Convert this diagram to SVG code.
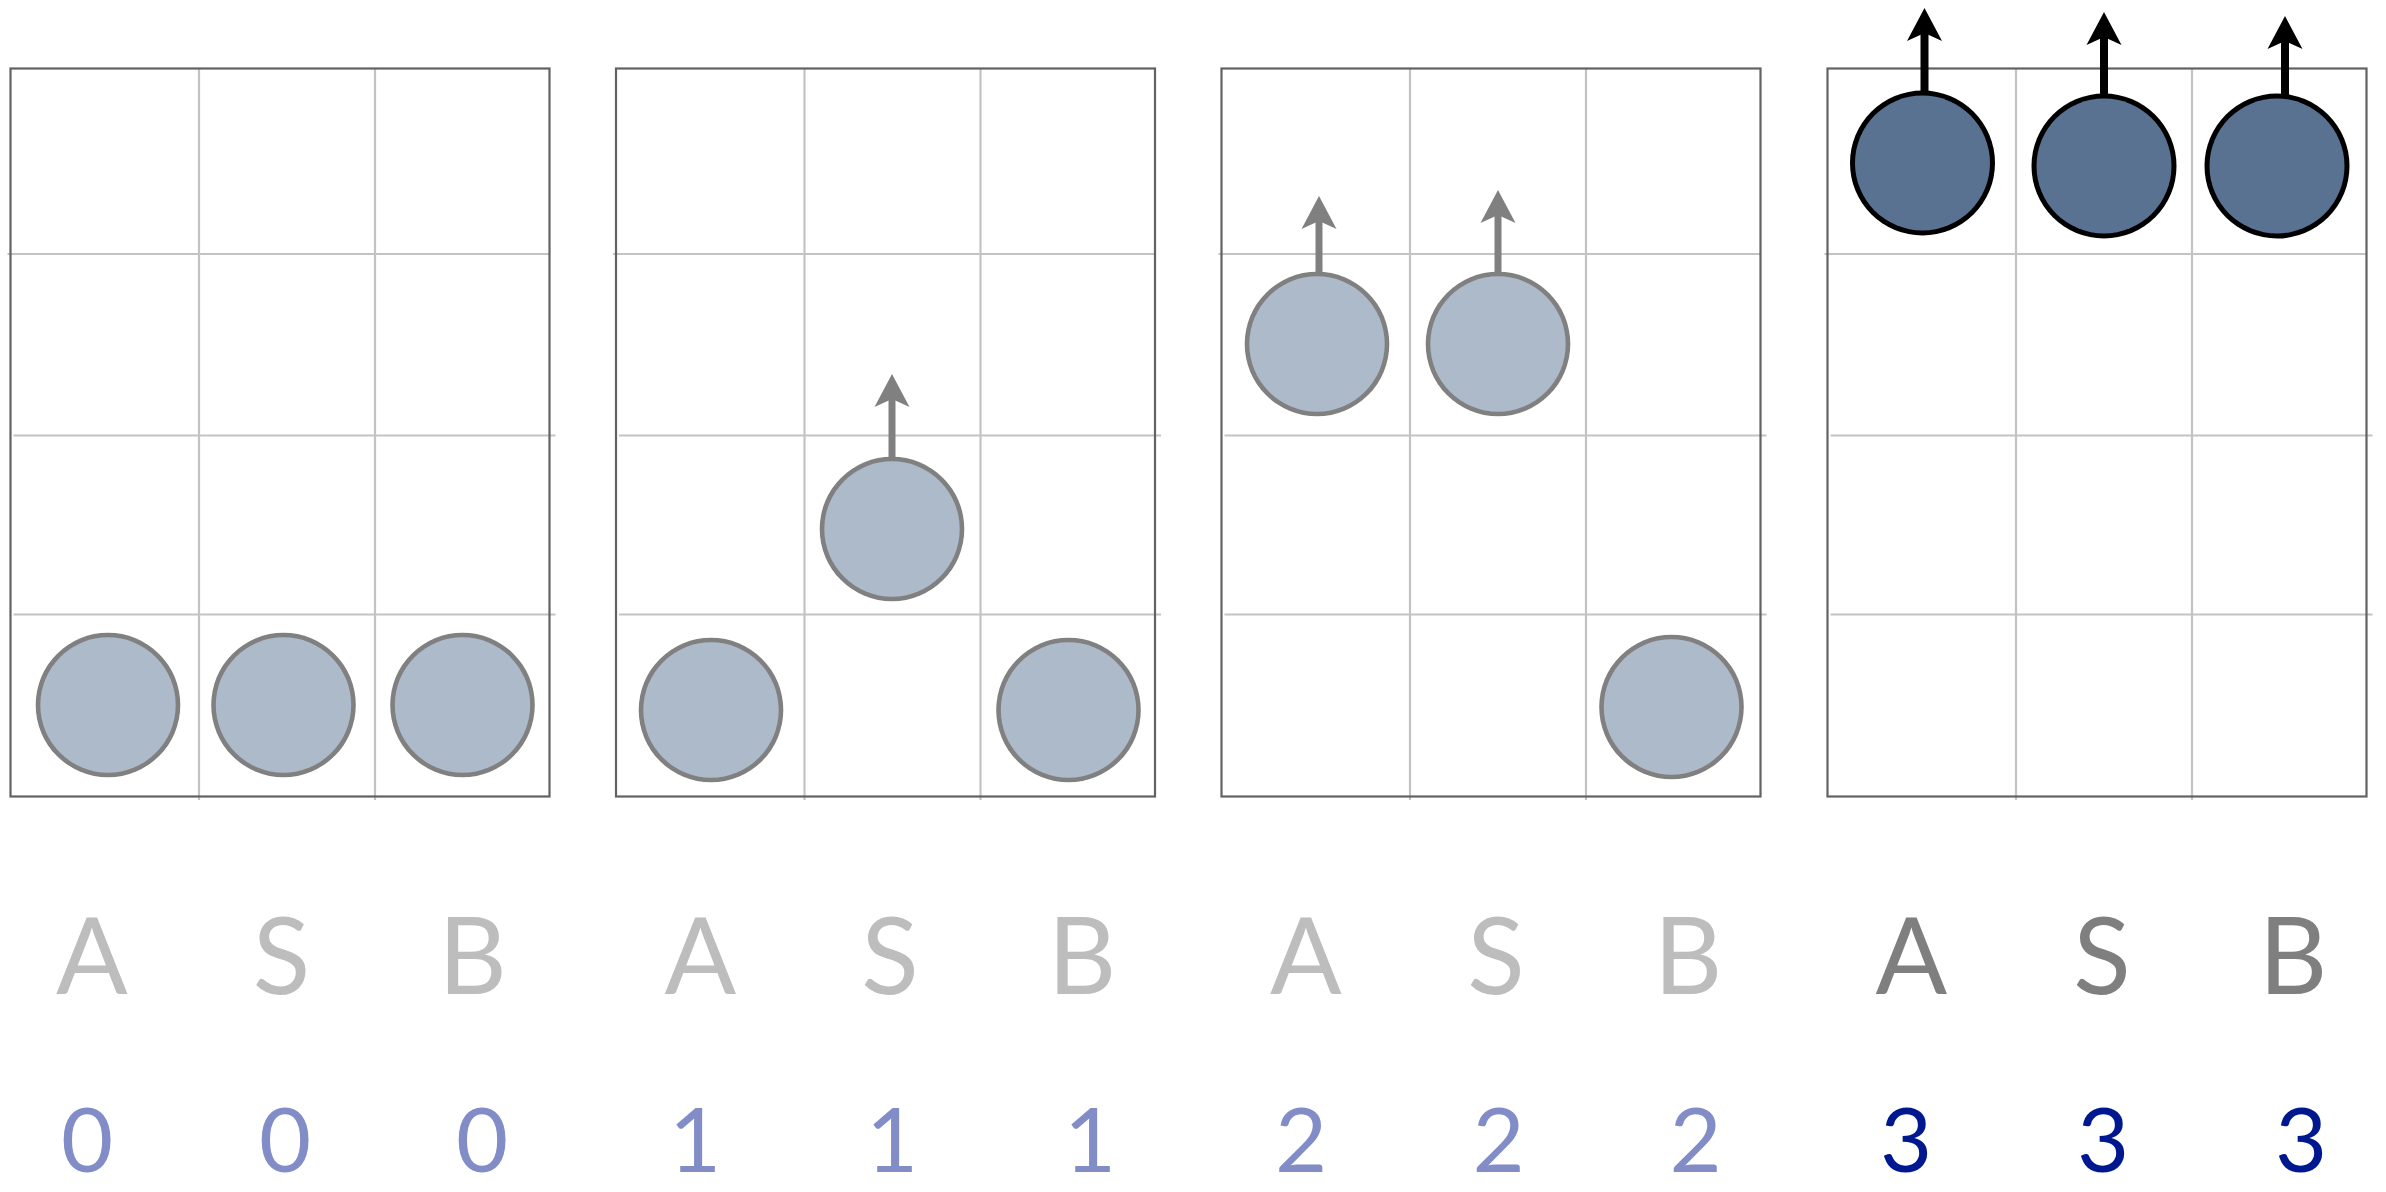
<svg xmlns="http://www.w3.org/2000/svg" width="2386" height="1192" viewBox="0 0 2386 1192">
  <style>
    .grid { stroke: #c3c3c3; stroke-width: 2.2; fill: none; }
    .border { stroke: #626262; stroke-width: 2.2; fill: none; }
    .ring { fill: #808080; }
    .core { fill: #adbac9; }
    .ring-done { fill: #000000; }
    .core-done { fill: #5a7291; }
    .shaft { stroke: #808080; stroke-width: 7; fill: none; }
    .shaft-done { stroke: #000000; stroke-width: 8; fill: none; }
    .lbl { font-family: Lato, "Open Sans", "Liberation Sans", sans-serif; font-size: 106px; text-anchor: middle; fill: #bdbdbd; }
    .lbl-done { fill: #7f7f7f; }
    .num { font-family: Lato, "Open Sans", "Liberation Sans", sans-serif; font-size: 90px; text-anchor: middle; fill: #828dc8; }
    .num-done { fill: #00188f; }
  </style>
  <defs>
    <marker id="headGray" markerUnits="userSpaceOnUse" viewBox="-10 -20 40 40" markerWidth="40" markerHeight="40" refX="0" refY="0" orient="auto" overflow="visible">
      <path d="M25,0 L-8,-17.5 L0,0 L-8,17.5 Z" fill="#808080"/>
    </marker>
    <marker id="headBlack" markerUnits="userSpaceOnUse" viewBox="-10 -20 40 40" markerWidth="40" markerHeight="40" refX="0" refY="0" orient="auto" overflow="visible">
      <path d="M25,0 L-8,-17.5 L0,0 L-8,17.5 Z" fill="#000000"/>
    </marker>
    <g id="ball">
      <ellipse class="ring" cx="0" cy="0" rx="72.3" ry="72.3"/>
      <ellipse class="core" cx="0" cy="0" rx="67.7" ry="67.7"/>
    </g>
    <g id="ballDone">
      <ellipse class="ring-done" cx="0" cy="0" rx="72.5" ry="72.5"/>
      <ellipse class="core-done" cx="0" cy="0" rx="67.5" ry="67.5"/>
    </g>
    <g id="gridlines">
      <line class="grid" x1="188.5" y1="68.5" x2="188.5" y2="800"/>
      <line class="grid" x1="364.5" y1="68.5" x2="364.5" y2="800"/>
      <line class="grid" x1="-3" y1="254" x2="539" y2="254"/>
      <line class="grid" x1="3" y1="435.5" x2="545" y2="435.5"/>
      <line class="grid" x1="3" y1="614.5" x2="545" y2="614.5"/>
    </g>
  </defs>

  <!-- Panel grids -->
  <g id="panel-0" transform="translate(10.5,0)">
    <use href="#gridlines"/>
    <rect class="border" x="0" y="68.5" width="539" height="728"/>
  </g>
  <g id="panel-1" transform="translate(616,0)">
    <use href="#gridlines"/>
    <rect class="border" x="0" y="68.5" width="539" height="728"/>
  </g>
  <g id="panel-2" transform="translate(1221.5,0)">
    <use href="#gridlines"/>
    <rect class="border" x="0" y="68.5" width="539" height="728"/>
  </g>
  <g id="panel-3" transform="translate(1827.5,0)">
    <use href="#gridlines"/>
    <rect class="border" x="0" y="68.5" width="539" height="728"/>
  </g>

  <!-- Balls -->
  <g id="p0-ball-A"><use href="#ball" transform="translate(108,705)"/></g>
  <g id="p0-ball-S"><use href="#ball" transform="translate(283.5,705)"/></g>
  <g id="p0-ball-B"><use href="#ball" transform="translate(462.5,705)"/></g>

  <g id="p1-ball-A"><use href="#ball" transform="translate(711,710)"/></g>
  <g id="p1-ball-S"><use href="#ball" transform="translate(892,529)"/></g>
  <g id="p1-ball-B"><use href="#ball" transform="translate(1068.5,710)"/></g>

  <g id="p2-ball-A"><use href="#ball" transform="translate(1317,344)"/></g>
  <g id="p2-ball-S"><use href="#ball" transform="translate(1498,344)"/></g>
  <g id="p2-ball-B"><use href="#ball" transform="translate(1671.5,707)"/></g>

  <g id="p3-ball-A"><use href="#ballDone" transform="translate(1922.5,163)"/></g>
  <g id="p3-ball-S"><use href="#ballDone" transform="translate(2104,166)"/></g>
  <g id="p3-ball-B"><use href="#ballDone" transform="translate(2277,166)"/></g>

  <!-- Connectors (arrows) -->
  <g id="connectors">
    <line class="shaft" x1="892" y1="459" x2="892" y2="399" marker-end="url(#headGray)"/>
    <line class="shaft" x1="1319" y1="274" x2="1319" y2="221" marker-end="url(#headGray)"/>
    <line class="shaft" x1="1498" y1="274" x2="1498" y2="215" marker-end="url(#headGray)"/>
    <line class="shaft-done" x1="1924.5" y1="93" x2="1924.5" y2="33" marker-end="url(#headBlack)"/>
    <line class="shaft-done" x1="2104" y1="96" x2="2104" y2="37" marker-end="url(#headBlack)"/>
    <line class="shaft-done" x1="2285" y1="96" x2="2285" y2="41" marker-end="url(#headBlack)"/>
  </g>

  <!-- Labels -->
  <g id="labels">
    <text class="lbl" x="92" y="994">A</text>
    <text class="lbl" x="281.5" y="994">S</text>
    <text class="lbl" x="472.5" y="994">B</text>
    <text class="lbl" x="700.5" y="994">A</text>
    <text class="lbl" x="890" y="994">S</text>
    <text class="lbl" x="1082" y="994">B</text>
    <text class="lbl" x="1306" y="994">A</text>
    <text class="lbl" x="1496" y="994">S</text>
    <text class="lbl" x="1688" y="994">B</text>
    <text class="lbl lbl-done" x="1911.5" y="994">A</text>
    <text class="lbl lbl-done" x="2102" y="994">S</text>
    <text class="lbl lbl-done" x="2293" y="994">B</text>
  </g>

  <g id="counts">
    <text class="num" x="87" y="1172">0</text>
    <text class="num" x="285" y="1172">0</text>
    <text class="num" x="482" y="1172">0</text>
    <text class="num" x="695" y="1172">1</text>
    <text class="num" x="892" y="1172">1</text>
    <text class="num" x="1090" y="1172">1</text>
    <text class="num" x="1301" y="1172">2</text>
    <text class="num" x="1498.5" y="1172">2</text>
    <text class="num" x="1695.5" y="1172">2</text>
    <text class="num num-done" x="1906" y="1172">3</text>
    <text class="num num-done" x="2103" y="1172">3</text>
    <text class="num num-done" x="2301" y="1172">3</text>
  </g>
</svg>
